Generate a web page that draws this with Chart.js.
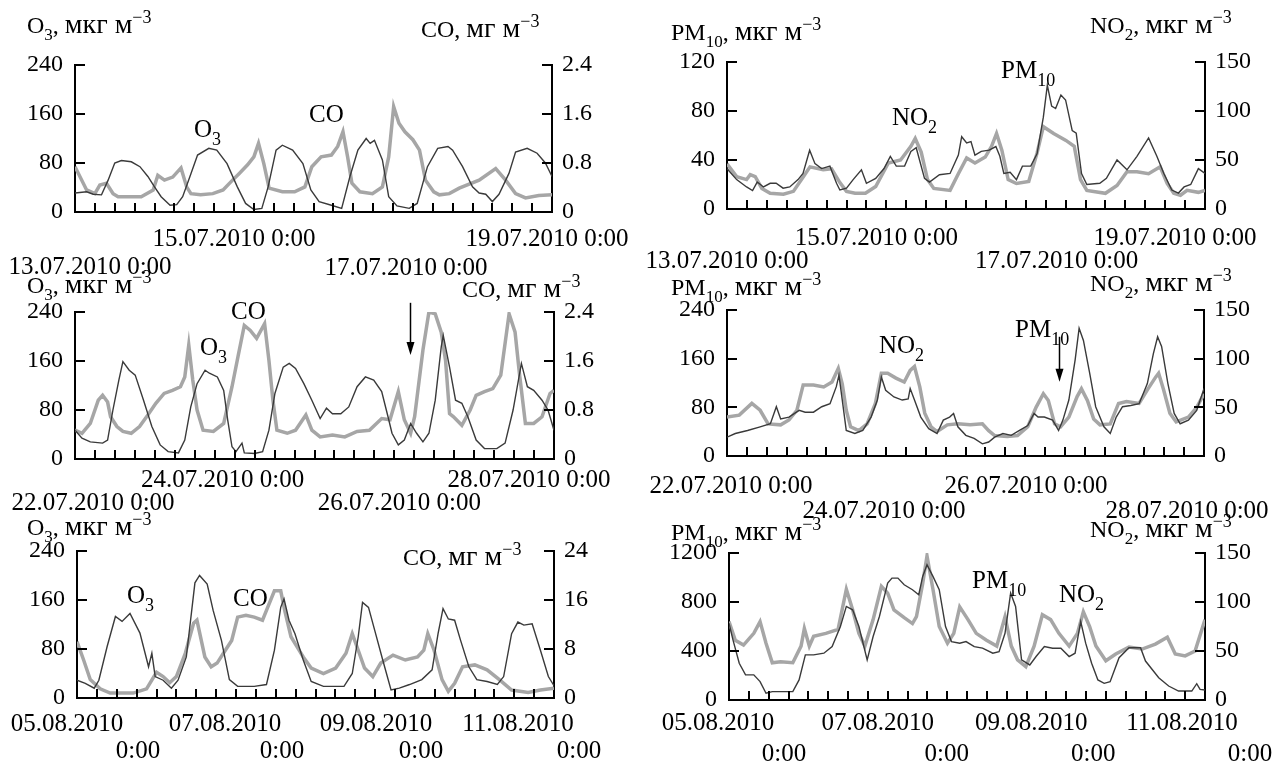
<!DOCTYPE html>
<html>
<head>
<meta charset="utf-8">
<script src="https://cdn.jsdelivr.net/npm/chart.js@4.4.0/dist/chart.umd.min.js"></script>
<style>
  body { margin: 0; background: #fff; }
  #wrap { position: relative; width: 1287px; height: 764px; overflow: hidden; background: #fff; }
  #wrap canvas { position: absolute; left: 0; top: 0; }
</style>
</head>
<body>
<div id="wrap"></div>
<script>
// -----------------------------
// Data (hours from the first midnight of each 6-day window)
// -----------------------------

// 13.07-19.07.2010, O3 (мкг м-3) and CO (мг м-3)
const p1O3Hours = [0,3.5,5.5,8,10,12,14,17,19.6,22,24,26,28.7,30.7,32.5,34.7,37,40.4,42.8,45.9,49,51.5,54,56.4,58.3,60.7,62.6,65.7,68.8,71.2,73.7,77.4,80.5,83,85.4,87.9,89.1,90.4,92.8,94.7,97.2,100.9,103.3,106.4,109.5,112.6,114,117,120,122,124,126,128,131,133,136.5,139.5,142,144];
const p1O3 = [31,33,29,28,52,80,84,82,74,58,41,25,11,12,25,58,93,104,101,79,41,14,4,6,41,101,109,101,79,36,17,11,6,58,101,120,112,117,85,25,10,6,14,74,104,107,101,74,41,31,29,17,29,63,98,104,96,80,58];
const p1COHours = [0,3.5,6,7.5,9.5,11.5,13,20,23.6,25,27,29.5,32,33.7,35,37.9,41.6,44.7,47.2,49.6,52.1,54,55.4,57,58.6,62.6,66.3,69.4,71.5,74.3,77.4,79.3,80.9,82.3,83.6,86,89.8,92.8,94.7,96.2,97.8,99.6,102,104,105.8,108.3,110,113,116,122,127,130,133,136,140,144];
const p1CO = [0.74,0.36,0.3,0.44,0.47,0.3,0.25,0.25,0.36,0.6,0.52,0.57,0.72,0.41,0.3,0.28,0.3,0.36,0.5,0.63,0.77,0.9,1.12,0.79,0.39,0.33,0.33,0.41,0.74,0.9,0.93,1.07,1.31,0.9,0.47,0.33,0.3,0.41,0.9,1.72,1.45,1.31,1.18,1.01,0.52,0.33,0.28,0.3,0.39,0.52,0.71,0.52,0.3,0.23,0.27,0.28];

// 13.07-19.07.2010, PM10 and NO2 (мкг м-3)
const p2PMHours = [0,2.9,5.9,7.7,9.1,11,13,14.8,16.9,18.9,21.4,22.9,24.9,26.5,28.5,31,33,34,36,38,40.5,42,44.8,47.3,49.2,51,53.5,55.4,57,59.5,61,64,67.2,69.7,70.7,72.2,73.5,74.7,76.6,79,81,82.2,83.4,85.3,87.2,89,91.5,93.4,95.3,96.5,97.8,99,100.6,102,104,105.2,106.8,108.4,112.3,114.3,117.5,120.5,123.5,127,129.5,131.6,134,136,137.7,139.7,142,144];
const p2PM = [33,24,18,15,22,18,21,21,17,18,24,29,48,37,33,35,21,15.5,17,24,32,21,25,33,43,35,35,47,50,25,22,28,29,44,59,54,55,44,47,48,51,43,29,30,24,35,35,45,75,101,84,82,93,89,64,62,29,20,21,25,40,32,43,58,43,29,15.5,13,18,20,33,29];
const p2NO2Hours = [0,2.9,5.9,7,8.5,10.5,13,17,20,23,25,29,31.5,34,36,38.6,41.7,44.8,48.6,52.3,55.4,56.7,58.5,60.4,62.3,67.2,69.7,72.2,74.7,77.8,79.7,81.2,82.8,84.7,87.2,90.9,93.4,95.3,98.4,102.1,104.6,106.5,108.4,114,117.5,120.5,123.5,127,130.5,132.6,134.6,136.6,138.6,142,144];
const p2NO2 = [46,33,30,35,33,21,16,15,18,33,43,40,41,27,18,16,16,23,47,50,64,72,58,30,21,19,36,52,47,53,64,77,60,30,26,28,57,84,77,70,64,30,19,16,24,38,38,36,43,26,16,14,19,17,19];

// 22.07-28.07.2010, O3 and CO
const p3O3Hours = [0,2.1,4.6,8.3,9.8,11.4,13.2,14.4,16.3,18.1,20.6,23.1,25.6,28,31.1,33,34.8,36.7,39.1,40.4,42.8,44.7,45.9,47.2,48.4,50.2,50.9,54,56.4,58.3,60.1,62.6,64.4,66.3,68.8,71.2,73.7,75.6,77.4,79.9,82.3,84.8,87.3,89.8,92.2,94.1,95.3,97.2,99,100.9,102.7,104.6,106.4,108.3,110.1,110.7,112.6,114.4,116.3,118.1,120.6,123.1,126.8,129.3,131.7,134.2,136,137.9,140.4,142.2,144];
const p3O3 = [47,34,28,26,31,80,129,159,145,137,96,53,23,12,10,31,85,123,145,140,134,112,64,20,12,26,10,9,12,47,107,150,156,148,123,96,66,83,74,74,85,118,134,129,110,69,42,23,31,58,42,28,42,96,183,202,150,96,91,69,31,17,17,26,80,156,118,112,96,80,47];
const p3COHours = [0,2.1,4.6,7,8.3,9.8,10.7,12.6,14.4,16.9,19.4,21.9,24.3,26.8,29.3,31.7,33,34.2,35.4,36.7,38.5,41.6,44.7,47.2,49,50.9,52.7,54.6,57,58.3,59.5,60.7,63.8,66.3,69.4,71.2,73.7,77.4,81.1,84.8,88.5,92.2,94.7,97.2,99,100.9,102.1,104.6,106.4,108.3,110.1,111.4,112.6,113.8,116.3,118.8,120.6,123.1,125.6,128,130.5,132.3,133.6,135.4,137.9,140.4,142.8,144];
const p3CO = [0.47,0.42,0.58,0.96,1.04,0.93,0.69,0.53,0.45,0.42,0.53,0.72,0.91,1.07,1.12,1.18,1.34,1.86,1.29,0.8,0.47,0.45,0.58,1.18,1.67,2.18,2.1,1.97,2.21,1.61,0.96,0.47,0.42,0.47,0.72,0.47,0.36,0.39,0.36,0.45,0.47,0.66,0.64,1.1,0.64,0.42,0.69,1.78,2.4,2.37,2.07,1.61,0.74,0.69,0.55,0.8,1.04,1.1,1.15,1.37,2.37,2.07,1.4,0.58,0.58,0.69,1.07,1.12];

// 22.07-28.07.2010, PM10 and NO2
const p4PMHours = [0,2.5,6.2,10,13.1,14.9,16.2,18.7,21.8,23.6,26.1,28.6,31.1,33,33.8,34.8,36,38.6,41,43.5,45.4,46.6,47.9,50.4,52.9,54.7,55.3,56.6,58.5,60.9,63.4,65.3,67.2,68.4,69.7,72.1,74.6,77.1,79,80.8,83.3,85.8,88.3,90.8,92.7,93.9,95.8,98.3,100.1,101.4,103.2,105.1,106.3,107.6,109.5,111.3,113.8,115.7,117.5,119.4,121.9,124.4,126.9,128.7,130,131.2,133.1,135,136.8,139.3,141.8,144];
const p4PM = [31,37,42,48,53,81,61,64,75,72,72,81,86,114,133,92,42,37,42,64,92,130,108,97,92,94,111,92,64,45,37,59,64,70,48,34,29,20,23,31,37,34,42,50,70,64,64,59,42,59,92,158,210,190,136,81,48,37,64,81,83,86,119,168,196,180,119,70,53,59,75,111];
const p4NO2Hours = [0,3.7,7.5,10,12.4,16.2,18.7,21.1,23,26.1,29.2,31.7,33.6,34.8,36,37.3,39.8,42.3,44.8,46.6,48.5,51,53.5,55.3,56.6,58.2,59.7,61.6,63.4,66.5,69.7,73.4,77.1,79,80.8,84.6,87.7,90.8,93.3,95.5,97,98.9,100.7,103.2,105.7,107,108.8,110.7,112.6,115.7,118.2,120.6,124.4,126.9,129.4,130.3,131.8,133.7,135.6,139.3,141.8,144];
const p4NO2 = [40,42,54,47,33,32,37,47,73,73,71,76,90,74,47,30,26,33,54,85,85,80,76,88,92,71,44,30,25,32,33,32,33,26,21,20,21,30,50,64,57,33,30,40,61,69,57,38,32,33,54,56,54,68,81,85,68,44,35,40,50,64];

// 05.08-11.08.2010, O3 and CO
const p5O3Hours = [0,2.5,5.2,6.6,9.1,11.6,13.6,16,19,21.6,22.6,23.6,26,28.5,30.5,33,35.6,37,39.3,41.1,43.6,46,48.5,53.5,57.2,59.6,61.5,62.5,64,65.8,68.3,70.7,74.4,80.6,83.1,84.9,86.2,88,89.9,92.3,94.8,97.3,100.4,104.1,107.2,109,110.5,112.1,114,115.8,118.3,120.7,123.8,126.9,128.8,131.2,133.1,134.9,137.4,139.9,142.3,144];
const p5O3 = [29,24,16,29,84,133,125,138,106,51,73,35,29,16,29,67,188,200,186,143,94,30,19,19,22,78,148,162,127,105,62,27,19,19,40,100,156,148,110,62,13,16,22,30,46,105,146,129,127,94,51,30,27,22,35,105,124,119,121,78,35,20];
const p5COHours = [0,2,4,7,10,17,21,24,26,28,30,32.7,35.2,36.2,38.6,40.5,42.3,44.2,46.7,48.5,51,53.5,56,57.2,59.6,61.5,62.7,64.6,66.4,68.3,70.7,74.4,78.1,81.2,83.1,84.9,86.8,89.3,91.7,95.4,99.1,102.8,104.7,105.9,107.8,110.2,112.1,114,116.4,120.1,123.8,127.5,131.2,136.2,139.9,144];
const p5CO = [9.2,6.2,3,1.5,0.8,0.8,1.5,4.2,3.5,2.5,3.5,7.3,12.2,12.7,6.7,5.1,5.7,7.3,9.4,13.2,13.5,13.2,12.7,14.3,17.5,17.5,14.3,10,8.4,6.7,4.9,4,4.9,7.3,10.5,7.8,4.9,3.5,5.7,7,6.2,6.7,7.8,10.5,7.8,3,1.1,2.4,5.1,5.4,4.6,3,1.3,0.9,1.3,1.6];

// 05.08-11.08.2010, PM10 and NO2
const p6PMHours = [0,1.2,3.1,5,7.5,9.4,11.2,13.1,19.3,21.2,23.1,25.6,28.7,31.2,33.7,35.5,37.4,39.3,41.8,43.6,45.5,48,49.3,51.1,53,55.5,57.4,58.6,59.9,61.7,63.6,65.5,67.3,69.8,71.7,74.2,76.7,79.8,81.7,83.5,85.2,86.7,88.5,91,92.9,95.4,97.9,100.4,102.9,104.7,106.4,107.9,109.7,111.6,113.5,115.3,118,121,124.5,126,130,133,136,140,141.5,142.5,144];
const p6PM = [627,491,300,205,205,150,55,68,68,164,368,368,382,436,600,764,736,600,327,518,682,955,995,995,941,900,859,1009,1104,1009,900,600,477,464,477,436,423,382,395,545,873,764,327,286,355,436,423,423,355,382,641,464,300,164,136,150,345,427,427,318,182,114,73,73,133,87,82];
const p6NO2Hours = [0,1.9,4.4,7.5,9.4,11.2,13.1,15.6,19.3,21.8,22.8,24.3,25.6,29.3,33,35.5,37.4,39.3,41.1,43.6,46.1,48,49.9,53,55.5,56.7,58.6,59.9,61.7,63.6,66.1,68,69.8,72.3,74.8,77.9,81,83.5,85.4,87.3,89.8,92.3,94.8,97.3,99.8,102.9,105.4,107.2,109.1,111,114,117,121,125,129,132.6,135,138,141,144];
const p6NO2 = [80,61,56,68,80,58,38,39,38,55,73,55,65,68,72,113,92,68,55,82,116,109,92,84,78,85,119,147,113,75,58,68,95,82,68,61,55,85,55,41,34,55,87,82,68,55,68,90,75,55,40,47,54,52,57,64,47,45,50,82];

// Tick labels
const o3Ticks = ['0', '80', '160', '240'];
const coTicks = ['0', '0.8', '1.6', '2.4'];
const coTicksAug = ['0', '8', '16', '24'];
const pmTicksJul13 = ['0', '40', '80', '120'];
const pmTicksJul22 = ['0', '80', '160', '240'];
const pmTicksAug = ['0', '400', '800', '1200'];
const no2Ticks = ['0', '50', '100', '150'];

const dateHours = [0, 48, 96, 144];
const datesJul13 = ['13.07.2010 0:00', '15.07.2010 0:00', '17.07.2010 0:00', '19.07.2010 0:00'];
const datesJul22 = ['22.07.2010 0:00', '24.07.2010 0:00', '26.07.2010 0:00', '28.07.2010 0:00'];
const datesAug = ['05.08.2010', '07.08.2010', '09.08.2010', '11.08.2010'];
const timeLabel = '0:00';

// -----------------------------
// Drawing helpers
// -----------------------------
const W = 1287, H = 764;
const FONT = "'Liberation Serif', 'Times New Roman', serif";

const O3 = [['O', 'n'], ['3', 'sub']];
const CO = [['CO', 'n']];
const PM10 = [['PM', 'n'], ['10', 'sub']];
const NO2 = [['NO', 'n'], ['2', 'sub']];
const mkg = [[', ', 'n'], ['мкг м', 'u'], ['−3', 'sup']];
const mg = [[', ', 'n'], ['мг м', 'u'], ['−3', 'sup']];

function drawRich(ctx, x, y, parts, size) {
  let cx = x;
  parts.forEach(([txt, kind]) => {
    let fs = size, dy = 0;
    if (kind === 'sub') { fs = Math.round(size * 0.7); dy = size * 0.3; }
    if (kind === 'sup') { fs = Math.round(size * 0.75); dy = -size * 0.42; }
    if (kind === 'u') { fs = Math.round(size * 1.15); }
    ctx.font = fs + 'px ' + FONT;
    ctx.fillText(txt, cx, y + dy);
    cx += ctx.measureText(txt).width;
  });
}

function stagger(texts, rows, dxs) {
  return texts.map((t, i) => ({ h: dateHours[i], t, y: rows[i], dx: dxs[i] }));
}

function twoLine(texts, y1, y2, dx1, dx2) {
  const out = [];
  texts.forEach((t, i) => {
    out.push({ h: dateHours[i], t, y: y1, dx: dx1[i] });
    out.push({ h: dateHours[i], t: timeLabel, y: y2, dx: dx2[i] });
  });
  return out;
}

function decor(p) {
  return {
    id: 'decor',
    afterDraw(chart) {
      const { ctx, chartArea: a, scales } = chart;
      const x = scales.x, yl = scales.yL, yr = scales.yR;
      ctx.save();
      ctx.strokeStyle = '#000';
      ctx.fillStyle = '#000';
      ctx.lineWidth = 2;
      ctx.beginPath();
      x.ticks.forEach(t => {
        if (t.value <= 0 || t.value >= 144) return;
        const px = Math.round(x.getPixelForValue(t.value));
        ctx.moveTo(px, a.bottom); ctx.lineTo(px, a.bottom - 9);
      });
      yl.ticks.forEach(t => {
        if (t.value <= 0) return;
        const py = Math.round(yl.getPixelForValue(t.value));
        ctx.moveTo(a.left, py); ctx.lineTo(a.left + 10, py);
      });
      yr.ticks.forEach(t => {
        if (t.value <= 0) return;
        const py = Math.round(yr.getPixelForValue(t.value));
        ctx.moveTo(a.right, py); ctx.lineTo(a.right - 10, py);
      });
      ctx.stroke();

      // date labels under the time axis
      ctx.textAlign = 'center';
      ctx.textBaseline = 'middle';
      ctx.font = '25px ' + FONT;
      p.dates.forEach(d => {
        const w = ctx.measureText(d.t).width;
        let cx = x.getPixelForValue(d.h) + d.dx;
        cx = Math.max(3 + w / 2, Math.min(W - 3 - w / 2, cx));
        ctx.fillText(d.t, cx, d.y);
      });

      // axis titles and series names
      ctx.textAlign = 'left';
      ctx.textBaseline = 'alphabetic';
      p.texts.forEach(t => drawRich(ctx, t.x, t.y, t.parts, t.size));

      // arrows
      ctx.lineWidth = 1.5;
      p.arrows.forEach(ar => {
        const px = Math.round(x.getPixelForValue(ar.h)) + 0.5;
        const y1 = yl.getPixelForValue(ar.from), y2 = yl.getPixelForValue(ar.to);
        ctx.beginPath(); ctx.moveTo(px, y1); ctx.lineTo(px, y2 - 10); ctx.stroke();
        ctx.beginPath(); ctx.moveTo(px - 4, y2 - 13); ctx.lineTo(px + 4, y2 - 13); ctx.lineTo(px, y2); ctx.closePath(); ctx.fill();
      });
      ctx.restore();
    }
  };
}

function pts(hours, vals) {
  return hours.map((h, i) => ({ x: h, y: vals[i] }));
}

// -----------------------------
// Panels
// -----------------------------
const TS = 24, LS = 25;
const panels = [
  {
    area: [75, 65, 552, 212],
    dark: pts(p1O3Hours, p1O3), light: pts(p1COHours, p1CO),
    left: { max: 240, step: 80, labels: o3Ticks }, right: { max: 2.4, step: 0.8, labels: coTicks },
    dates: stagger(datesJul13, [267, 239, 268, 239], [15, 0, 13, -5]),
    texts: [
      { x: 27, y: 33, size: TS, parts: O3.concat(mkg) },
      { x: 421, y: 37, size: TS, parts: CO.concat(mg) },
      { x: 194, y: 137, size: LS, parts: O3 },
      { x: 309, y: 122, size: LS, parts: CO }
    ],
    arrows: []
  },
  {
    area: [727, 62, 1205, 209],
    dark: pts(p2PMHours, p2PM), light: pts(p2NO2Hours, p2NO2),
    left: { max: 120, step: 40, labels: pmTicksJul13 }, right: { max: 150, step: 50, labels: no2Ticks },
    dates: stagger(datesJul13, [261, 238, 261, 238], [0, -10, 11, -30]),
    texts: [
      { x: 671, y: 40, size: TS, parts: PM10.concat(mkg) },
      { x: 1090, y: 33, size: TS, parts: NO2.concat(mkg) },
      { x: 892, y: 125, size: LS, parts: NO2 },
      { x: 1001, y: 78, size: LS, parts: PM10 }
    ],
    arrows: []
  },
  {
    area: [75, 312, 554, 459],
    dark: pts(p3O3Hours, p3O3), light: pts(p3COHours, p3CO),
    left: { max: 240, step: 80, labels: o3Ticks }, right: { max: 2.4, step: 0.8, labels: coTicks },
    dates: stagger(datesJul22, [503, 480, 503, 480], [18, -12, 5, -25]),
    texts: [
      { x: 27, y: 293, size: TS, parts: O3.concat(mkg) },
      { x: 462, y: 297, size: TS, parts: CO.concat(mg) },
      { x: 231, y: 319, size: LS, parts: CO },
      { x: 200, y: 355, size: LS, parts: O3 }
    ],
    arrows: [{ h: 100.6, from: 255, to: 170 }]
  },
  {
    area: [727, 310, 1204, 456],
    dark: pts(p4PMHours, p4PM), light: pts(p4NO2Hours, p4NO2),
    left: { max: 240, step: 80, labels: pmTicksJul22 }, right: { max: 150, step: 50, labels: no2Ticks },
    dates: stagger(datesJul22, [486, 511, 486, 511], [4, -2, -19, -17]),
    texts: [
      { x: 671, y: 295, size: TS, parts: PM10.concat(mkg) },
      { x: 1090, y: 291, size: TS, parts: NO2.concat(mkg) },
      { x: 1015, y: 337, size: LS, parts: PM10 },
      { x: 879, y: 353, size: LS, parts: NO2 }
    ],
    arrows: [{ h: 100.3, from: 196, to: 122 }]
  },
  {
    area: [77, 551, 554, 698],
    dark: pts(p5O3Hours, p5O3), light: pts(p5COHours, p5CO),
    left: { max: 240, step: 80, labels: o3Ticks }, right: { max: 24, step: 8, labels: coTicksAug },
    dates: twoLine(datesAug, 724, 751, [-10, -11, -19, -36], [61, 46, 26, 25]),
    texts: [
      { x: 27, y: 535, size: TS, parts: O3.concat(mkg) },
      { x: 403, y: 565, size: TS, parts: CO.concat(mg) },
      { x: 127, y: 603, size: LS, parts: O3 },
      { x: 233, y: 606, size: LS, parts: CO }
    ],
    arrows: []
  },
  {
    area: [729, 553, 1205, 700],
    dark: pts(p6PMHours, p6PM), light: pts(p6NO2Hours, p6NO2),
    left: { max: 1200, step: 400, labels: pmTicksAug }, right: { max: 150, step: 50, labels: no2Ticks },
    dates: twoLine(datesAug, 723, 754, [-11, -10, -15, -23], [55, 59, 47, 45]),
    texts: [
      { x: 671, y: 540, size: TS, parts: PM10.concat(mkg) },
      { x: 1090, y: 537, size: TS, parts: NO2.concat(mkg) },
      { x: 972, y: 588, size: LS, parts: PM10 },
      { x: 1059, y: 602, size: LS, parts: NO2 }
    ],
    arrows: []
  }
];

function axis(pos, side, width) {
  return {
    type: 'linear',
    position: pos,
    min: 0,
    max: side.max,
    ticks: {
      stepSize: side.step,
      color: '#000',
      padding: pos === 'left' ? 12 : 10,
      font: { family: FONT, size: 24 },
      callback: (v, i) => side.labels[i]
    },
    grid: { display: false, drawTicks: false },
    border: { display: true, color: '#000', width: 2 },
    afterFit: s => { s.width = width; }
  };
}

const wrap = document.getElementById('wrap');
panels.forEach(p => {
  const canvas = document.createElement('canvas');
  canvas.width = W;
  canvas.height = H;
  canvas.style.width = W + 'px';
  canvas.style.height = H + 'px';
  wrap.appendChild(canvas);

  new Chart(canvas, {
    type: 'line',
    data: {
      datasets: [
        { data: p.dark, yAxisID: 'yL', borderColor: '#3a3a3a', borderWidth: 1.4, pointRadius: 0, tension: 0 },
        { data: p.light, yAxisID: 'yR', borderColor: '#a6a6a6', borderWidth: 3.5, pointRadius: 0, tension: 0 }
      ]
    },
    options: {
      responsive: false,
      animation: false,
      devicePixelRatio: 1,
      layout: { padding: { top: p.area[1], left: 0, right: 0, bottom: 0 } },
      plugins: { legend: { display: false }, tooltip: { enabled: false } },
      scales: {
        x: {
          type: 'linear',
          min: 0,
          max: 144,
          ticks: { display: false, stepSize: 6 },
          grid: { display: false, drawTicks: false },
          border: { display: true, color: '#000', width: 2 },
          afterFit: s => { s.height = H - p.area[3]; }
        },
        yL: axis('left', p.left, p.area[0]),
        yR: axis('right', p.right, W - p.area[2])
      }
    },
    plugins: [decor(p)]
  });
});
</script>
</body>
</html>
